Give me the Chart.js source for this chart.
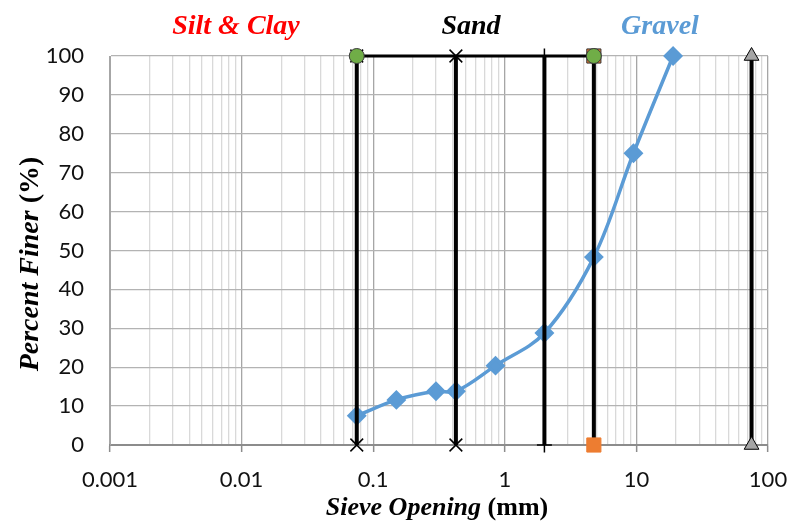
<!DOCTYPE html>
<html>
<head>
<meta charset="utf-8">
<script src="https://cdn.jsdelivr.net/npm/chart.js@4.4.1/dist/chart.umd.min.js"></script>
<style>
  html, body { margin: 0; padding: 0; background: #fff; }
  #wrap { width: 788px; height: 525px; }
</style>
</head>
<body>
<div id="wrap"><canvas id="c" width="788" height="525"></canvas></div>
<script>
// Grain-size distribution: sieve opening (mm) vs percent passing
const sieveSizes = [0.075, 0.15, 0.3, 0.425, 0.85, 2, 4.75, 9.5, 19];
const percentFiner = [7.5, 11.6, 13.8, 13.8, 20.4, 28.8, 48.3, 75, 100];

// Soil-class boundary sieves (mm)
const siltClayLimit = 0.075;
const fineSandLimit = 0.425;
const mediumSandLimit = 2;
const gravelLimit = 4.75;
const cobbleLimit = 75;
const boundaryRange = [0, 100];

// Axis ticks
const xTickLabels = ['0.001', '0.01', '0.1', '1', '10', '100'];
const yMin = 0, yMax = 100, yStep = 10;

// Region labels across the top
const regionNames = ['Silt & Clay', 'Sand', 'Gravel'];

const BLUE = '#5B9BD5';

function vertical(x) {
  return boundaryRange.map(y => ({ x: x, y: y }));
}

// minor/major tick values for the log axis: 1..9 x 10^k
const xTickValues = [];
for (let e = -3; e <= 2; e++) {
  for (let m = 1; m <= 9; m++) {
    const v = m * Math.pow(10, e);
    if (v > 100.0001) break;
    xTickValues.push(parseFloat(v.toPrecision(3)));
  }
}
function isDecade(v) {
  const l = Math.log10(v);
  return Math.abs(l - Math.round(l)) < 1e-9;
}

const titlesPlugin = {
  id: 'titles',
  afterDraw(chart) {
    const ctx = chart.ctx;
    ctx.save();
    ctx.textBaseline = 'alphabetic';
    // region labels
    const regionColors = ['#FF0000', '#000000', BLUE];
    const regionX = [236, 471, 660];
    ctx.font = 'italic bold 28px "Liberation Serif", "Times New Roman", serif';
    ctx.textAlign = 'center';
    regionNames.forEach((t, i) => {
      ctx.fillStyle = regionColors[i];
      ctx.fillText(t, regionX[i], 34);
    });

    // mixed-style axis title drawer
    function mixed(parts, cx, cy, rot) {
      ctx.save();
      ctx.translate(cx, cy);
      if (rot) ctx.rotate(rot);
      ctx.textAlign = 'left';
      ctx.fillStyle = '#000';
      let total = 0;
      parts.forEach(p => { ctx.font = p.font; p.w = ctx.measureText(p.text).width; total += p.w; });
      let x = -total / 2;
      parts.forEach(p => { ctx.font = p.font; ctx.fillText(p.text, x, 0); x += p.w; });
      ctx.restore();
    }
    const serif = '"Liberation Serif", "Times New Roman", serif';
    mixed([{ text: 'Sieve Opening ', font: 'italic bold 26px ' + serif },
           { text: '(mm)', font: 'bold 26px ' + serif }], 437, 515, 0);
    mixed([{ text: 'Percent Finer ', font: 'italic bold 28px ' + serif },
           { text: '(%)', font: 'bold 28px ' + serif }], 38, 264, -Math.PI / 2);
    ctx.restore();
  }
};

const blackLine = { showLine: true, borderColor: '#000', backgroundColor: '#000', borderWidth: 4, clip: false };

new Chart(document.getElementById('c'), {
  type: 'scatter',
  data: {
    datasets: [
      Object.assign({}, blackLine, {
        label: 'Sand top',
        data: [{ x: siltClayLimit, y: 100 }, { x: gravelLimit, y: 100 }],
        borderWidth: 3,
        pointStyle: 'circle', pointRadius: 7.5, pointBackgroundColor: '#70AD47',
        pointBorderColor: '#3a3a3a', pointBorderWidth: 1, order: 1
      }),
      Object.assign({}, blackLine, {
        label: 'No. 200',
        data: vertical(siltClayLimit),
        pointStyle: 'crossRot', pointRadius: 9, pointBorderColor: '#000', pointBorderWidth: 1.5, order: 2
      }),
      Object.assign({}, blackLine, {
        label: 'No. 40',
        data: vertical(fineSandLimit),
        pointStyle: 'crossRot', pointRadius: 9, pointBorderColor: '#000', pointBorderWidth: 1.5, order: 2
      }),
      Object.assign({}, blackLine, {
        label: 'No. 10',
        data: vertical(mediumSandLimit),
        pointStyle: 'cross', pointRadius: 7.5, pointBorderColor: '#000', pointBorderWidth: 1.5, order: 2
      }),
      Object.assign({}, blackLine, {
        label: 'No. 4',
        data: vertical(gravelLimit),
        pointStyle: 'rect', pointRadius: 10, pointBackgroundColor: '#ED7D31',
        pointBorderColor: ['#ED7D31', '#333333'], pointBorderWidth: 1, order: 2
      }),
      Object.assign({}, blackLine, {
        label: '3 in',
        data: vertical(cobbleLimit),
        pointStyle: 'triangle', pointRadius: 8.5, pointBackgroundColor: '#A5A5A5',
        pointBorderColor: '#000', pointBorderWidth: 1, order: 2
      }),
      {
        label: 'Percent finer',
        data: sieveSizes.map((s, i) => ({ x: s, y: percentFiner[i] })),
        showLine: true,
        borderColor: BLUE, backgroundColor: BLUE, borderWidth: 3.5,
        tension: 0.35,
        pointStyle: 'rectRot', pointRadius: 7.5, pointBackgroundColor: BLUE, pointBorderColor: BLUE,
        clip: false, order: 10
      }
    ]
  },
  options: {
    responsive: false,
    animation: false,
    devicePixelRatio: 1,
    layout: { padding: { top: 56, right: 20, left: 0, bottom: 0 } },
    plugins: { legend: { display: false }, tooltip: { enabled: false } },
    scales: {
      x: {
        type: 'logarithmic',
        min: 0.001, max: 100,
        afterBuildTicks(scale) {
          scale.ticks = xTickValues.map(v => ({ value: v, major: isDecade(v) }));
        },
        afterFit(scale) {
          scale.height = 80;
          scale.paddingLeft = 0;
          scale.paddingRight = 0;
        },
        ticks: {
          autoSkip: false, maxRotation: 0, minRotation: 0, padding: 15,
          color: '#111',
          font: { family: 'Lato, "Open Sans", sans-serif', size: 22 },
          callback(v) {
            if (!isDecade(v)) return '';
            const idx = Math.round(Math.log10(v)) + 3;
            return xTickLabels[idx];
          }
        },
        grid: {
          color: c => (c.tick && c.tick.major ? '#a6a6a6' : '#d9d9d9'),
          lineWidth: 1.3,
          tickColor: c => (c.tick && c.tick.major ? '#8c8c8c' : 'rgba(0,0,0,0)'),
          tickLength: 7,
          tickWidth: 1.5
        },
        border: { display: true, color: '#8c8c8c', width: 2 }
      },
      y: {
        type: 'linear',
        min: yMin, max: yMax,
        afterFit(scale) {
          scale.width = 110;
          scale.paddingTop = 0;
          scale.paddingBottom = 0;
        },
        ticks: {
          stepSize: yStep, padding: 26, color: '#111',
          font: { family: 'Lato, "Open Sans", sans-serif', size: 22 }
        },
        grid: { color: '#b3b3b3', lineWidth: 1.3, drawTicks: false },
        border: { display: true, color: '#a6a6a6', width: 1 }
      }
    }
  },
  plugins: [titlesPlugin]
});
</script>
</body>
</html>
